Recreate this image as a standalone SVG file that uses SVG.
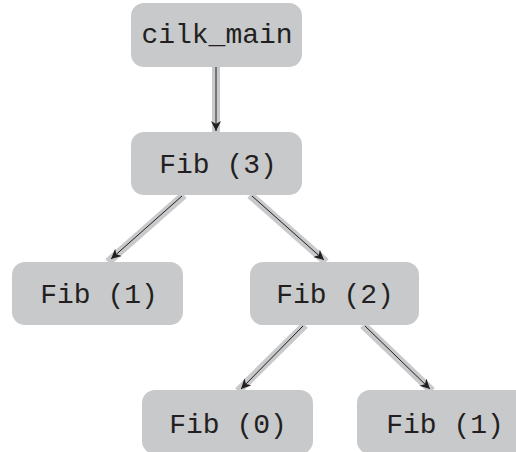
<svg xmlns="http://www.w3.org/2000/svg" width="516" height="452" viewBox="0 0 516 452">
<style>
.node rect{fill:#c8c9cb;}
.node text{font-family:"Liberation Mono","Courier New",monospace;font-size:28px;fill:#231f20;text-anchor:middle;}
.band{stroke:#c8c9cb;stroke-width:8;fill:none;}
.wire{stroke:#231f20;stroke-width:1;fill:none;marker-end:url(#ah);}
</style>
<defs>
<marker id="ah" viewBox="0 0 10 10" refX="10" refY="5" markerWidth="10" markerHeight="10" markerUnits="userSpaceOnUse" orient="auto">
<path d="M0,0 L10,5 L0,10 L3,5 Z" fill="#231f20"/>
</marker>
</defs>
<rect width="516" height="452" fill="#ffffff"/>
<g id="connectors">
<line class="band" x1="216" y1="67" x2="216" y2="132"/>
<line class="wire" x1="216" y1="67" x2="216" y2="131"/>
<line class="band" x1="184" y1="195" x2="108" y2="262"/>
<line class="wire" x1="182" y1="196" x2="111" y2="259"/>
<line class="band" x1="250" y1="195" x2="326" y2="262"/>
<line class="wire" x1="252" y1="196" x2="324" y2="260"/>
<line class="band" x1="305" y1="325" x2="238" y2="391"/>
<line class="wire" x1="303" y1="326" x2="241" y2="389"/>
<line class="band" x1="363" y1="325" x2="432" y2="391"/>
<line class="wire" x1="365" y1="326" x2="430" y2="389"/>
</g>
<g id="cilk_main" class="node"><rect x="131" y="3" width="171" height="64" rx="13"/><text x="217" y="43">cilk_main</text></g>
<g id="fib3" class="node"><rect x="131" y="132" width="171" height="63" rx="13"/><text x="218" y="173">Fib (3)</text></g>
<g id="fib1a" class="node"><rect x="12" y="262" width="171" height="63" rx="13"/><text x="99" y="303">Fib (1)</text></g>
<g id="fib2" class="node"><rect x="250" y="262" width="169" height="63" rx="13"/><text x="335" y="303">Fib (2)</text></g>
<g id="fib0" class="node"><rect x="142" y="390" width="171" height="64" rx="13"/><text x="228" y="433">Fib (0)</text></g>
<g id="fib1b" class="node"><rect x="357" y="390" width="171" height="64" rx="13"/><text x="445" y="433">Fib (1)</text></g>
</svg>
